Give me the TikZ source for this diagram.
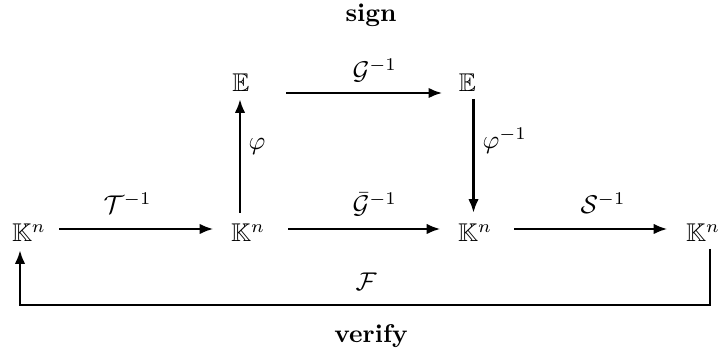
\documentclass[tikz,border=0pt]{standalone}
\usepackage{amssymb}
\usetikzlibrary{arrows.meta}
\begin{document}
\begin{tikzpicture}[x=0.39pt,y=-0.39pt,
  obj/.style={inner sep=0pt,anchor=base},
  lbl/.style={inner sep=0pt,anchor=base west},
  arr/.style={line width=1.15pt,-{Latex[length=5.4pt,width=4.1pt]}},
  ttl/.style={inner sep=0pt,anchor=base,font=\bfseries}]
\useasboundingbox (0,0) rectangle (718,361);
% objects
\node[obj] (Kn1) at (29,242) {$\mathbb{K}^n$};
\node[obj] (Kn2) at (248,242) {$\mathbb{K}^n$};
\node[obj] (Kn3) at (475,242) {$\mathbb{K}^n$};
\node[obj] (Kn4) at (703,242) {$\mathbb{K}^n$};
\node[obj] (E1) at (241,92) {$\mathbb{E}$};
\node[obj] (E2) at (467.5,92) {$\mathbb{E}$};
% titles
\node[ttl] (sign) at (371,22) {sign};
\node[ttl] (verify) at (371,343) {verify};
% arrows
\draw[arr] ([shift={(13,-13)}]Kn1.base east) -- ([shift={(-17,-13)}]Kn2.base west);
\draw[arr] ([shift={(23,-13)}]Kn2.base east) -- ([shift={(-17,-13)}]Kn3.base west);
\draw[arr] ([shift={(22,-13)}]Kn3.base east) -- ([shift={(-18,-13)}]Kn4.base west);
\draw[arr] ([shift={(36,1)}]E1.base east) -- ([shift={(-16,1)}]E2.base west);
\draw[arr] ([shift={(-1,121)}]E1.base) -- ([shift={(-1,7)}]E1.base);
\draw[arr] ([shift={(6,7)}]E2.base) -- ([shift={(6,121)}]E2.base);
\draw[arr] ([shift={(7,7)}]Kn4.base) -- ++(0,56) -| ([shift={(-9,8)}]Kn1.base);
% labels
\node[lbl] (lT) at (103,214) {$\mathcal{T}^{-1}$};
\node[lbl] (lGb) at (352,214) {$\bar{\mathcal{G}}^{-1}$};
\node[lbl] (lS) at (580,214) {$\mathcal{S}^{-1}$};
\node[lbl] (lG) at (352,80) {$\mathcal{G}^{-1}$};
\node[lbl] (lphi) at (248,150) {$\varphi$};
\node[lbl] (lphii) at (482,149) {$\varphi^{-1}$};
\node[obj] (lF) at (366,291) {$\mathcal{F}$};
\end{tikzpicture}
\end{document}
